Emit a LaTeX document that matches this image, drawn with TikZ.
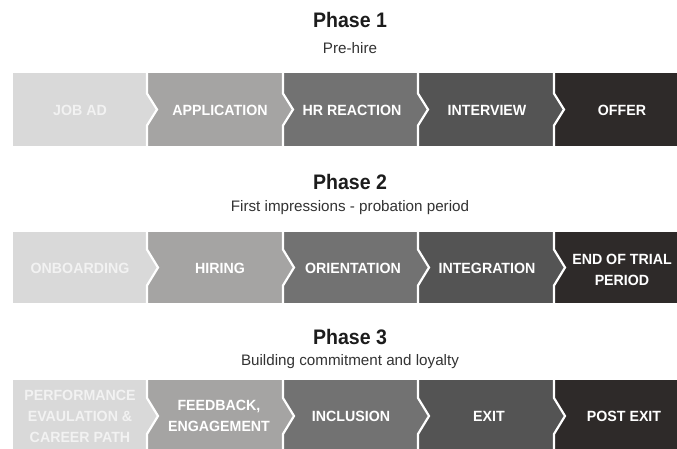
\documentclass[tikz,border=0pt]{standalone}
\usepackage{fontspec}
\setmainfont{Liberation Sans}
\newfontfamily\boxfont[FakeStretch=0.96]{Liberation Sans}
\newfontfamily\ttlfont[FakeStretch=0.93]{Liberation Sans}
\definecolor{cA}{HTML}{D9D9D9}
\definecolor{cB}{HTML}{A5A4A3}
\definecolor{cC}{HTML}{727272}
\definecolor{cD}{HTML}{545454}
\definecolor{cE}{HTML}{2E2A29}
\definecolor{tA}{HTML}{F2F2F2}
\definecolor{ttl}{HTML}{1C1C1C}
\definecolor{sub}{HTML}{333333}
\tikzset{
  boxtxt/.style={inner sep=0pt, align=center, text=white, font=\boxfont\bfseries\fontsize{14.8}{21}\selectfont},
  lighttxt/.style={boxtxt, text=tA},
  phasettl/.style={inner sep=0pt, text=ttl, font=\ttlfont\bfseries\fontsize{21}{24}\selectfont},
  phasesub/.style={inner sep=0pt, text=sub, font=\fontsize{15.2}{17}\selectfont},
  sep/.style={draw=white, line width=2.2pt, line join=miter}
}
% \chevrow{top}{bottom}{half}{depth}
\newcommand{\chevrow}[4]{%
  \pgfmathsetmacro{\cy}{(#1+#2)/2}%
  \fill[cA] (13,#1) rectangle (147,#2);
  \fill[cB] (147,#1) rectangle (283,#2);
  \fill[cC] (283,#1) rectangle (418,#2);
  \fill[cD] (418,#1) rectangle (554,#2);
  \fill[cE] (554,#1) rectangle (677,#2);
  \foreach \bx/\col in {147/cA,283/cB,418/cC,554/cD}{
    \fill[\col] (\bx,\cy-#3) -- (\bx+#4,\cy) -- (\bx,\cy+#3) -- cycle;
    \draw[sep] (\bx,#1) -- (\bx,\cy-#3) -- (\bx+#4,\cy) -- (\bx,\cy+#3) -- (\bx,#2);
  }
}
\begin{document}
\begin{tikzpicture}[x=1pt,y=-1pt]
\useasboundingbox (0,0) rectangle (677,448);
\fill[white] (0,0) rectangle (677,448);
\begin{scope}
\clip (0,0) rectangle (677,448);
\chevrow{73}{146}{16}{10}
\chevrow{232}{303}{18}{11}
\chevrow{380}{452}{18}{11}
\end{scope}

% Phase 1
\node[phasettl] (p1) at (350,20) {Phase 1};
\node[phasesub] (s1) at (350,48) {Pre-hire};
\node[lighttxt] (a1) at (80,110) {JOB AD};
\node[boxtxt] (a2) at (220,110) {APPLICATION};
\node[boxtxt] (a3) at (352,110) {HR REACTION};
\node[boxtxt] (a4) at (487,110) {INTERVIEW};
\node[boxtxt] (a5) at (622,110) {OFFER};

% Phase 2
\node[phasettl] (p2) at (350,182) {Phase 2};
\node[phasesub] (s2) at (350,208) {First impressions - probation period};
\node[lighttxt] (b1) at (80,268) {ONBOARDING};
\node[boxtxt] (b2) at (220,268) {HIRING};
\node[boxtxt] (b3) at (353,268) {ORIENTATION};
\node[boxtxt] (b4) at (487,268) {INTEGRATION};
\node[boxtxt] (b5) at (622,270) {END OF TRIAL\\PERIOD};

% Phase 3
\node[phasettl] (p3) at (350,337) {Phase 3};
\node[phasesub] (s3) at (350,362) {Building commitment and loyalty};
\node[lighttxt] (c1) at (80,416) {PERFORMANCE\\EVAULATION \&\\CAREER PATH};
\node[boxtxt] (c2) at (219,416) {FEEDBACK,\\ENGAGEMENT};
\node[boxtxt] (c3) at (351,416) {INCLUSION};
\node[boxtxt] (c4) at (489,416) {EXIT};
\node[boxtxt] (c5) at (624,416) {POST EXIT};
\end{tikzpicture}
\end{document}
